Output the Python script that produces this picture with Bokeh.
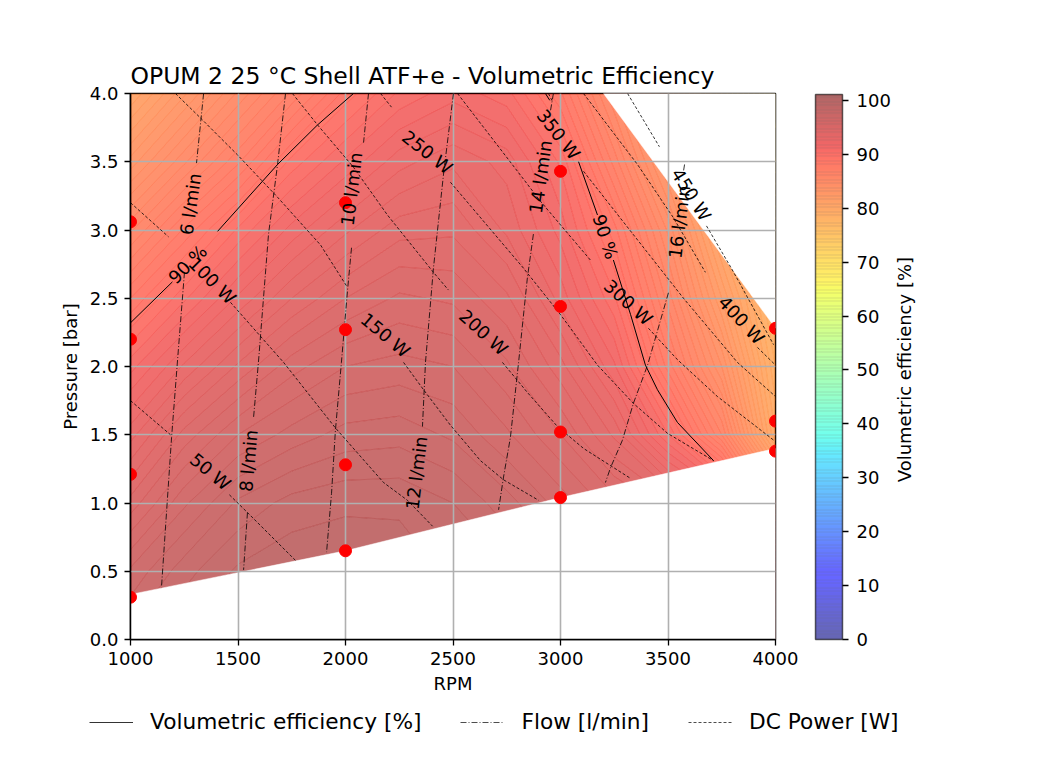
import numpy as np
from bokeh.core.properties import value
from bokeh.embed import file_html
from bokeh.layouts import column, row
from bokeh.models import (ColorBar, FixedTicker, Label, Legend, LegendItem, LinearColorMapper,
                          NumeralTickFormatter, Range1d)
from bokeh.plotting import figure
from bokeh.resources import INLINE

TITLE = "OPUM 2 25 °C Shell ATF+e - Volumetric Efficiency"
FONT = "DejaVu Sans"
TICK_SIZE = "18px"
EFF_TOP = 101.1
FLOW_DASH = [6, 2, 1, 2]
POWER_DASH = [3, 2]

# efficiency, one row per pressure
grid_rpm = [1000, 1250, 1500, 1750, 2000, 2250, 2500, 2750, 3000, 3250, 3500, 3750, 4000]
grid_bar = [0.0, 0.5, 1.0, 1.5, 2.0, 2.5, 3.0, 3.5, 4.0]
eff_0_0 = [98.2, 99.1, 99.4, 99.4, 99.4, 99.4, 99.4, 99.1, 98.6, 97.9, 97.2, 96.5, 94.3]
eff_0_5 = [97.1, 98.3, 99.1, 99.4, 99.4, 99.3, 98.9, 98.6, 97.7, 96.9, 96.0, 95.2, 91.7]
eff_1_0 = [95.2, 96.9, 98.1, 98.7, 98.9, 98.9, 98.5, 97.7, 96.8, 95.7, 94.8, 93.0, 86.0]
eff_1_5 = [93.3, 95.2, 96.5, 97.2, 97.7, 97.8, 97.4, 96.6, 95.5, 93.9, 91.0, 87.0, 80.0]
eff_2_0 = [91.3, 93.1, 94.6, 95.8, 96.5, 96.7, 96.5, 95.6, 94.2, 92.1, 88.3, 84.5, 79.0]
eff_2_5 = [89.0, 90.9, 92.6, 94.0, 95.0, 95.6, 95.4, 94.6, 92.8, 90.6, 86.8, 82.5, 78.0]
eff_3_0 = [86.4, 88.6, 90.6, 92.2, 93.4, 94.3, 94.4, 93.4, 91.8, 89.2, 85.4, 80.6, 75.0]
eff_3_5 = [83.7, 85.9, 87.9, 90.2, 91.6, 92.8, 93.4, 92.8, 90.9, 87.3, 83.3, 78.0, 72.0]
eff_4_0 = [81.0, 83.4, 85.6, 87.6, 89.7, 91.1, 91.8, 91.2, 89.1, 85.5, 81.0, 76.0, 71.0]

# measured points
point_rpm = [1000, 1000, 1000, 1000, 2000, 2000, 2000, 2000, 3000, 3000, 3000, 3000, 4000, 4000, 4000]
point_bar = [0.31, 1.21, 2.20, 3.06, 0.65, 1.28, 2.27, 3.20, 1.04, 1.52, 2.44, 3.43, 1.38, 1.60, 2.28]

# edges of the operating range, nothing is filled outside
lower_rpm = [1000, 1000, 2000, 3000, 4000, 4000]
lower_bar = [0.0, 0.33, 0.65, 1.04, 1.40, 0.0]
upper_rpm = [3200, 4000, 4000]
upper_bar = [4.0, 2.28, 4.0]

# iso lines, broken where the inline labels sit
flow_rpm = [
    [1340, 1307], [1251, 1219, 1191, 1144],
    [1721, 1684, 1642, 1595, 1572], [1544, 1526],
    [2107, 2084], [2028, 2009, 1981, 1953, 1935, 1912],
    [2502, 2456, 2409, 2372, 2358],
    [2967, 2953], [2874, 2846, 2805, 2767, 2735, 2712],
    [3577, 3572], [3502, 3405, 3339, 3288, 3233, 3209],
]
flow_bar = [
    [4.0, 3.49], [2.69, 2.05, 1.48, 0.38],
    [4.0, 3.48, 2.97, 2.03, 1.62], [0.93, 0.51],
    [4.0, 3.64], [2.87, 2.55, 2.03, 1.53, 1.07, 0.64],
    [4.0, 3.41, 2.72, 2.03, 1.56],
    [4.0, 3.87], [2.97, 2.65, 2.03, 1.48, 1.19, 0.95],
    [3.48, 3.43], [2.54, 2.01, 1.73, 1.46, 1.26, 1.15],
]
power_rpm = [
    [1000, 1186], [1460, 1544, 1767],
    [1000, 1177], [1465, 1712, 1953, 2177, 2288, 2405],
    [1209, 1326, 1498, 1684, 1884, 2009], [2270, 2363, 2488, 2628, 2735, 2898],
    [1753, 1870, 2037, 2195, 2409, 2479], [2730, 2846, 2986, 3107, 3326],
    [2163, 2214], [2488, 2828, 3000, 3172, 3339, 3498, 3712],
    [2521, 2800, 2907, 3139], [3409, 3544, 3730, 4000],
    [2944, 2963], [3107, 3572, 3823, 4000],
    [3107, 3358, 3525, 3674], [3916, 4000],
    [3312, 3460], [3679, 3791, 3837, 3991],
]
power_bar = [
    [1.75, 1.50], [1.06, 0.93, 0.58],
    [3.20, 2.95], [2.47, 2.03, 1.55, 1.15, 1.02, 0.83],
    [4.0, 3.82, 3.55, 3.24, 2.89, 2.58], [2.03, 1.83, 1.57, 1.31, 1.17, 1.02],
    [4.0, 3.77, 3.46, 3.11, 2.69, 2.56], [2.03, 1.81, 1.56, 1.40, 1.18],
    [4.0, 3.90], [3.35, 2.72, 2.38, 2.01, 1.73, 1.51, 1.31],
    [4.0, 3.43, 3.21, 2.78], [2.28, 2.05, 1.78, 1.45],
    [4.0, 3.94], [3.43, 2.50, 2.03, 1.78],
    [4.0, 3.48, 3.09, 2.69], [2.14, 2.01],
    [4.0, 3.61], [3.03, 2.73, 2.60, 2.16],
]
eff_line_rpm = [
    [1000, 1195], [1405, 1684, 1870, 2037],
    [2930, 2950], [3084, 3172], [3246, 3326, 3395, 3451, 3544, 3712],
]
eff_line_bar = [
    [2.32, 2.62], [2.99, 3.48, 3.77, 4.0],
    [4.0, 3.95], [3.50, 3.11], [2.78, 2.38, 2.01, 1.83, 1.59, 1.31],
]

label_text = ["6 l/min", "8 l/min", "10 l/min", "12 l/min", "14 l/min", "16 l/min",
              "50 W", "100 W", "150 W", "200 W", "250 W", "300 W", "350 W", "400 W", "450 W",
              "90 %", "90 %"]
label_rpm = [1279, 1549, 2028, 2330, 2907, 3553,
             1372, 1381, 2186, 2642, 2381, 3316, 2991, 3842, 3609,
             1265, 3209]
label_bar = [3.19, 1.31, 3.30, 1.22, 3.39, 3.06,
             1.23, 2.63, 2.23, 2.25, 3.57, 2.47, 3.70, 2.34, 3.26,
             2.75, 2.95]
label_angle = [82, 85, 83, 83, 82, 83,
               -40, -45, -40, -42, -38, -42, -52, -47, -58,
               45, -72]


def jet(values):
    # same break points as the jet colormap
    red = np.interp(values, [0, 0.35, 0.66, 0.89, 1], [0, 0, 1, 1, 0.5])
    green = np.interp(values, [0, 0.125, 0.375, 0.64, 0.91, 1], [0, 0, 1, 1, 0, 0])
    blue = np.interp(values, [0, 0.11, 0.34, 0.65, 1], [0.5, 1, 1, 0, 0])
    return ["#%02x%02x%02x" % (int(r * 255), int(g * 255), int(b * 255))
            for r, g, b in zip(red, green, blue)]


def striped(colors, darken=0.82):
    # colour bar palette: a darker sliver at each level, like the seams in the fill
    out = []
    for c in colors:
        r, g, b = int(c[1:3], 16), int(c[3:5], 16), int(c[5:7], 16)
        out.append("#%02x%02x%02x" % (int(r * darken), int(g * darken), int(b * darken)))
        out.extend([c, c, c])
    return out


def blank_figure(width, height, x_end, y_end):
    # annotations in the centre get clipped to the frame, so give them a frame of their own
    fig = figure(width=width, height=height, output_backend="svg", toolbar_location=None,
                 x_range=Range1d(0, x_end), y_range=Range1d(0, y_end),
                 x_axis_type=None, y_axis_type=None, min_border=0)
    fig.outline_line_color = None
    return fig


efficiency = np.array([eff_0_0, eff_0_5, eff_1_0, eff_1_5, eff_2_0,
                       eff_2_5, eff_3_0, eff_3_5, eff_4_0])
levels = np.arange(0, 102, 0.5)
fill_colors = jet((levels[:-1] + 0.25) / EFF_TOP)
line_colors = jet(levels / EFF_TOP)

p = figure(width=895, height=700, output_backend="svg", toolbar_location=None,
           x_range=Range1d(1000, 4000), y_range=Range1d(0, 4),
           min_border_left=130, min_border_right=120, min_border_top=93, min_border_bottom=61,
           title=TITLE, x_axis_label="RPM", y_axis_label="Pressure [bar]")
p.background_fill_color = "white"
p.outline_line_color = "black"
p.outline_line_width = 1.5

p.title.text_font = FONT
p.title.text_font_size = "23.5px"
p.title.text_font_style = "normal"
p.title.text_color = "black"
p.title.align = "left"
p.title.standoff = 7

for ax in (p.xaxis[0], p.yaxis[0]):
    ax.axis_label_text_font = FONT
    ax.axis_label_text_font_size = TICK_SIZE
    ax.axis_label_text_font_style = "normal"
    ax.axis_label_text_color = "black"
    ax.major_label_text_font = FONT
    ax.major_label_text_font_size = TICK_SIZE
    ax.major_label_text_color = "black"
    ax.major_label_standoff = 6
    ax.axis_line_width = 1.5
    ax.major_tick_line_width = 1.3
    ax.major_tick_in = 0
    ax.major_tick_out = 6
    ax.minor_tick_line_color = None
p.xaxis.ticker = FixedTicker(ticks=[1000, 1500, 2000, 2500, 3000, 3500, 4000])
p.yaxis.ticker = FixedTicker(ticks=[0, 0.5, 1, 1.5, 2, 2.5, 3, 3.5, 4])
p.yaxis.formatter = NumeralTickFormatter(format="0.0")
p.xaxis.axis_label_standoff = 5
p.yaxis.axis_label_standoff = 6

p.grid.grid_line_color = "#b0b0b0"
p.grid.grid_line_width = 1.6
p.grid.level = "underlay"

field = p.contour(grid_rpm, grid_bar, efficiency, levels,
                  fill_color=fill_colors, fill_alpha=0.57,
                  line_color=line_colors, line_alpha=0.4, line_width=0.7)
field.level = "image"
for xs, ys in ((lower_rpm, lower_bar), (upper_rpm, upper_bar)):
    mask = p.patch(xs, ys, fill_color="white", line_color="white", line_width=0.5)
    mask.level = "image"

eff_lines = p.multi_line(eff_line_rpm, eff_line_bar, line_color="black", line_width=1.0)
flow_lines = p.multi_line(flow_rpm, flow_bar, line_color="black", line_width=0.8)
flow_lines.glyph.line_dash = FLOW_DASH
power_lines = p.multi_line(power_rpm, power_bar, line_color="black", line_width=0.8)
power_lines.glyph.line_dash = POWER_DASH

p.scatter(point_rpm, point_bar, size=12, color="#ff0000")

p.text(label_rpm, label_bar, text=label_text, angle=label_angle, angle_units="deg",
       text_font=value(FONT), text_font_size=value(TICK_SIZE), text_color="black",
       text_align="center", text_baseline="middle")

mapper = LinearColorMapper(palette=striped(fill_colors), low=0, high=EFF_TOP)
bar = ColorBar(color_mapper=mapper, ticker=FixedTicker(ticks=list(range(0, 101, 10))),
               location=(685, 0), width=27, height=545, padding=0, margin=0, scale_alpha=0.6,
               bar_line_color="black", bar_line_width=1.5, major_tick_in=0, major_tick_out=6,
               major_tick_line_color="black", major_tick_line_width=1.3, label_standoff=8,
               major_label_text_font=FONT, major_label_text_font_size=TICK_SIZE,
               major_label_text_color="black", background_fill_alpha=0)
p.add_layout(bar, "center")

# colour bar title, reads upwards like the y axis label
bar_title = blank_figure(30, 700, 30, 700)
bar_title.add_layout(Label(x=9, y=346, text="Volumetric efficiency [%]", angle=90, angle_units="deg",
                           text_font=FONT, text_font_size=TICK_SIZE, text_align="center",
                           text_baseline="middle", text_color="black"))

# legend strip under the plot, the key lines themselves stay outside the strip's range
strip = blank_figure(925, 45, 925, 45)
key_x = [-20, -10]
key_y = [-20, -10]
eff_key = strip.line(key_x, key_y, line_color="black", line_width=0.8)
flow_key = strip.line(key_x, key_y, line_color="black", line_width=0.7, line_dash=FLOW_DASH)
power_key = strip.line(key_x, key_y, line_color="black", line_width=0.7, line_dash=POWER_DASH)
legend = Legend(items=[LegendItem(label="Volumetric efficiency [%]", renderers=[eff_key]),
                       LegendItem(label="Flow [l/min]", renderers=[flow_key]),
                       LegendItem(label="DC Power [W]", renderers=[power_key])],
                orientation="horizontal", location=(89, 11), border_line_color=None,
                background_fill_alpha=0, glyph_width=44, label_standoff=17, spacing=39,
                label_text_font=FONT, label_text_font_size="21.7px", label_text_color="black",
                margin=0, padding=0)
strip.add_layout(legend, "center")

page = column(row(p, bar_title), strip)
open("out.html", "w").write(file_html(page, INLINE))
